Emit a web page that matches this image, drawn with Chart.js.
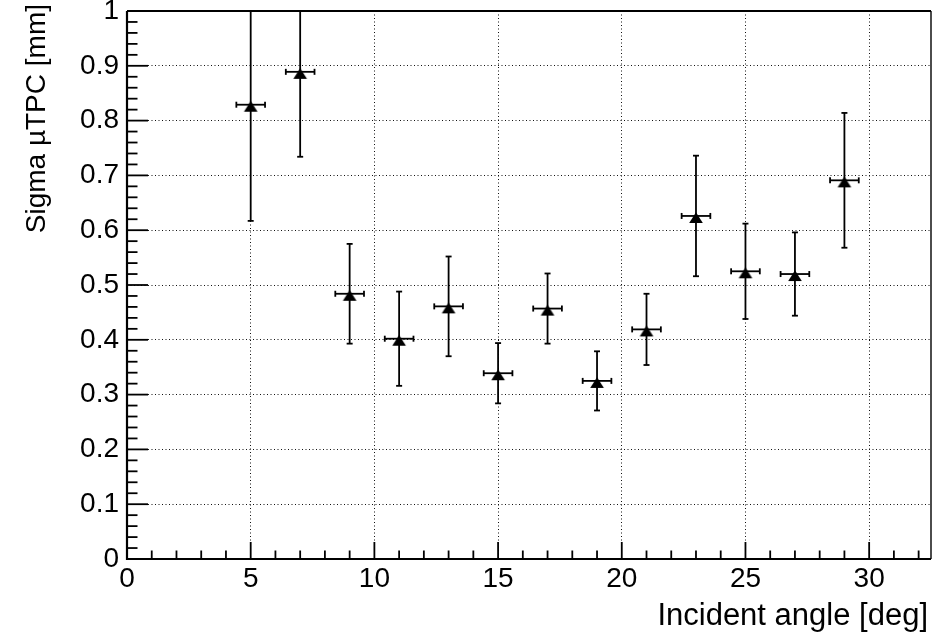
<!DOCTYPE html>
<html>
<head>
<meta charset="utf-8">
<script src="https://cdn.jsdelivr.net/npm/chart.js@4.4.0/dist/chart.umd.min.js"></script>
<style>
  html, body { margin: 0; padding: 0; background: #fff; }
  canvas { display: block; }
</style>
</head>
<body>
<canvas id="c" width="940" height="633"></canvas>
<script>
// Measured resolution vs. incident angle
const angles   = [5, 7, 9, 11, 13, 15, 17, 19, 21, 23, 25, 27, 29];
const sigma    = [0.829, 0.889, 0.484, 0.402, 0.461, 0.339, 0.457, 0.325, 0.419, 0.626, 0.525, 0.520, 0.691];
const sigmaErr = [0.212, 0.155, 0.091, 0.086, 0.091, 0.055, 0.064, 0.054, 0.065, 0.110, 0.087, 0.076, 0.123];
const angleErr = [0.58, 0.58, 0.58, 0.58, 0.58, 0.58, 0.58, 0.58, 0.58, 0.58, 0.58, 0.58, 0.58];

// Axis ticks
const xTickValues = [0, 5, 10, 15, 20, 25, 30];
const yTickLabels = ['0', '0.1', '0.2', '0.3', '0.4', '0.5', '0.6', '0.7', '0.8', '0.9', '1'];

const xTitle = 'Incident angle [deg]';
const yTitle = 'Sigma \u00B5TPC [mm]';

const FONT = "'Liberation Sans', Arial, Helvetica, sans-serif";

// Filled up-triangle marker, anchored a little above its centroid
function makeTriangle() {
  const c = document.createElement('canvas');
  c.width = 16; c.height = 20;
  const g = c.getContext('2d');
  g.fillStyle = '#000';
  g.beginPath();
  g.moveTo(8, 6.3);
  g.lineTo(14.8, 17);
  g.lineTo(1.2, 17);
  g.closePath();
  g.fill();
  return c;
}

// Error bars with end caps, clipped to the frame
const errorBars = {
  id: 'errorBars',
  beforeDatasetsDraw(chart) {
    const { ctx, chartArea: a, scales: { x, y } } = chart;
    ctx.save();
    ctx.beginPath();
    ctx.rect(a.left, a.top, a.right - a.left, a.bottom - a.top);
    ctx.clip();
    ctx.strokeStyle = '#000';
    ctx.lineWidth = 1.8;
    const seg = (x1, y1, x2, y2) => { ctx.beginPath(); ctx.moveTo(x1, y1); ctx.lineTo(x2, y2); ctx.stroke(); };
    angles.forEach((ang, i) => {
      const px = x.getPixelForValue(ang);
      const py = y.getPixelForValue(sigma[i]);
      const yt = y.getPixelForValue(sigma[i] + sigmaErr[i]);
      const yb = y.getPixelForValue(sigma[i] - sigmaErr[i]);
      const xl = x.getPixelForValue(ang - angleErr[i]);
      const xr = x.getPixelForValue(ang + angleErr[i]);
      seg(px, yt, px, yb);
      seg(xl, py, xr, py);
      seg(px - 3, yt, px + 3, yt);
      seg(px - 3, yb, px + 3, yb);
      seg(xl, py - 3, xl, py + 3);
      seg(xr, py - 3, xr, py + 3);
    });
    ctx.restore();
  }
};

// Frame box, inward tick marks and axis titles
const frame = {
  id: 'frame',
  afterDraw(chart) {
    const { ctx, chartArea: a, scales: { x, y } } = chart;
    ctx.save();
    ctx.strokeStyle = '#000';
    const seg = (x1, y1, x2, y2) => { ctx.beginPath(); ctx.moveTo(x1, y1); ctx.lineTo(x2, y2); ctx.stroke(); };

    // ticks
    ctx.lineWidth = 1.8;
    for (let v = 0; v <= y.max + 1e-9; v += 0.02) {
      const py = y.getPixelForValue(v);
      const major = Math.abs(v * 10 - Math.round(v * 10)) < 1e-6;
      seg(a.left, py, a.left + (major ? 21 : 10.5), py);
    }
    for (let v = 0; v <= x.max + 1e-9; v += 1) {
      const px = x.getPixelForValue(v);
      const major = v % 5 === 0;
      seg(px, a.bottom, px, a.bottom - (major ? 17 : 8.5));
    }

    // frame
    ctx.lineWidth = 2.2;
    seg(a.left, a.top, a.left, a.bottom + 1);
    seg(a.left - 1, a.bottom, a.right, a.bottom);
    seg(a.left, a.top, a.right, a.top);
    ctx.lineWidth = 1.4;
    seg(a.right, a.top, a.right, a.bottom);

    // axis titles
    ctx.fillStyle = '#000';
    ctx.textBaseline = 'alphabetic';
    ctx.textAlign = 'right';
    ctx.font = '31px ' + FONT;
    ctx.fillText(xTitle, a.right - 3, 625);
    ctx.translate(45, 4);
    ctx.rotate(-Math.PI / 2);
    ctx.font = '28px ' + FONT;
    ctx.fillText(yTitle, 0, 0);
    ctx.restore();
  }
};

new Chart(document.getElementById('c'), {
  type: 'scatter',
  data: {
    datasets: [{
      data: angles.map((a, i) => ({ x: a, y: sigma[i] })),
      pointStyle: makeTriangle(),
      radius: 8,
      hoverRadius: 8,
      backgroundColor: '#000',
      borderColor: '#000'
    }]
  },
  options: {
    responsive: false,
    animation: false,
    devicePixelRatio: 1,
    events: [],
    layout: { padding: { top: 11, right: 9, left: 0, bottom: 0 } },
    plugins: { legend: { display: false }, tooltip: { enabled: false } },
    scales: {
      x: {
        type: 'linear',
        min: 0,
        max: 32.5,
        afterBuildTicks: s => { s.ticks = xTickValues.map(v => ({ value: v })); },
        afterFit: s => { s.height = 74; s.paddingLeft = 0; s.paddingRight = 0; },
        grid: { color: '#111', lineWidth: 1, drawTicks: false },
        border: { display: false, dash: [1, 2.5] },
        ticks: {
          font: { family: FONT, size: 28 },
          color: '#000',
          padding: 3,
          maxRotation: 0,
          autoSkip: false
        }
      },
      y: {
        type: 'linear',
        min: 0,
        max: 1,
        afterBuildTicks: s => { s.ticks = yTickLabels.map(t => ({ value: parseFloat(t) })); },
        afterFit: s => { s.width = 127; s.paddingTop = 0; s.paddingBottom = 0; },
        grid: { color: '#111', lineWidth: 1, drawTicks: false },
        border: { display: false, dash: [1, 2.5] },
        ticks: {
          font: { family: FONT, size: 28 },
          color: '#000',
          padding: 8,
          autoSkip: false,
          callback: (v, i) => yTickLabels[i]
        }
      }
    }
  },
  plugins: [errorBars, frame]
});
</script>
</body>
</html>
